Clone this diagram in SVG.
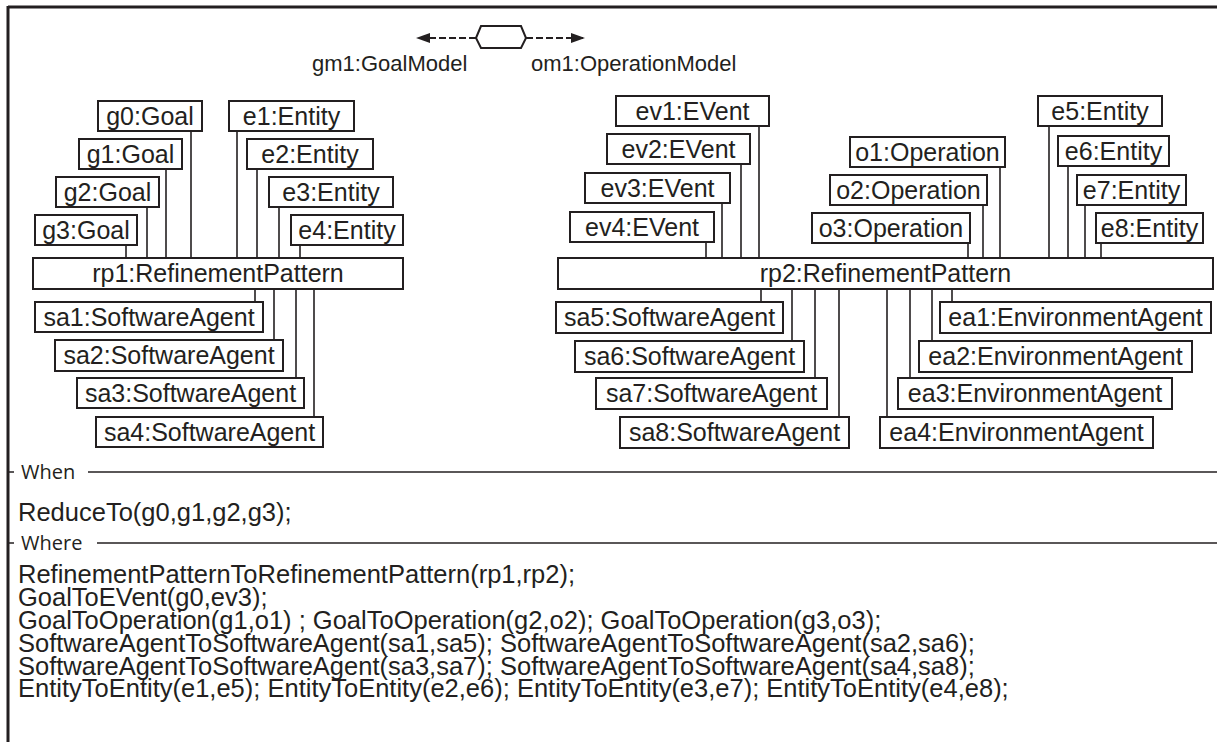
<svg xmlns="http://www.w3.org/2000/svg" width="1217" height="742" viewBox="0 0 1217 742">
  <style>
    .box { fill: #ffffff; stroke: #231f20; stroke-width: 2; }
    .lbl { font-family: "Liberation Sans", Arial, sans-serif; font-size: 25px; fill: #231f20; text-anchor: middle; }
    .model { font-family: "Liberation Sans", Arial, sans-serif; font-size: 22px; fill: #231f20; }
    .code { font-family: "Liberation Sans", Arial, sans-serif; font-size: 25.5px; fill: #231f20; }
    .sect { font-family: "Open Sans", "Noto Sans", sans-serif; font-size: 20px; fill: #231f20; }
    .frame { stroke: #231f20; stroke-width: 3; fill: none; }
    .sep { stroke: #231f20; stroke-width: 1.5; fill: none; }
    .link { stroke: #231f20; stroke-width: 1.6; fill: none; }
    .dash { stroke: #231f20; stroke-width: 2; stroke-dasharray: 7 3; fill: none; }
  </style>
  <defs>
    <marker id="arrow" viewBox="0 0 14 10" refX="14" refY="5" markerWidth="14" markerHeight="10" markerUnits="userSpaceOnUse" orient="auto">
      <path d="M0,0 L14,5 L0,10 Z" fill="#231f20"/>
    </marker>
  </defs>

  <rect width="1217" height="742" fill="#ffffff"/>

  <!-- outer frame: top edge and left edge -->
  <g id="frame">
    <line class="frame" x1="8" y1="7" x2="1217" y2="7"/>
    <line class="frame" x1="8" y1="6" x2="8" y2="742"/>
  </g>

  <!-- model relation: goal model to operation model -->
  <g id="model-relation">
    <polygon points="476,38 481,26 521,26 526,38 521,48 481,48" fill="#ffffff" stroke="#231f20" stroke-width="2"/>
    <line class="dash" x1="476" y1="38" x2="416" y2="38" marker-end="url(#arrow)"/>
    <line class="dash" x1="526" y1="38" x2="585" y2="38" marker-end="url(#arrow)"/>
    <text class="model" x="312" y="71">gm1:GoalModel</text>
    <text class="model" x="531" y="71">om1:OperationModel</text>
  </g>

  <!-- connectors -->
  <g id="connectors">
    <!-- rp1 upper links -->
    <line class="link" x1="191" y1="131" x2="191" y2="258"/>
    <line class="link" x1="166" y1="169" x2="166" y2="258"/>
    <line class="link" x1="147" y1="207" x2="147" y2="258"/>
    <line class="link" x1="126" y1="245" x2="126" y2="258"/>
    <line class="link" x1="237" y1="131" x2="237" y2="258"/>
    <line class="link" x1="257" y1="169" x2="257" y2="258"/>
    <line class="link" x1="279" y1="207" x2="279" y2="258"/>
    <line class="link" x1="300" y1="245" x2="300" y2="258"/>
    <!-- rp1 lower links -->
    <line class="link" x1="255" y1="289" x2="255" y2="302"/>
    <line class="link" x1="274" y1="289" x2="274" y2="340"/>
    <line class="link" x1="296" y1="289" x2="296" y2="378"/>
    <line class="link" x1="314" y1="289" x2="314" y2="417"/>
    <!-- rp2 upper links -->
    <line class="link" x1="706" y1="242" x2="706" y2="258"/>
    <line class="link" x1="722" y1="203" x2="722" y2="258"/>
    <line class="link" x1="741" y1="164" x2="741" y2="258"/>
    <line class="link" x1="759" y1="126" x2="759" y2="258"/>
    <line class="link" x1="968" y1="243" x2="968" y2="258"/>
    <line class="link" x1="983" y1="205" x2="983" y2="258"/>
    <line class="link" x1="1000" y1="167" x2="1000" y2="258"/>
    <line class="link" x1="1049" y1="126" x2="1049" y2="258"/>
    <line class="link" x1="1068" y1="166" x2="1068" y2="258"/>
    <line class="link" x1="1085" y1="205" x2="1085" y2="258"/>
    <line class="link" x1="1101" y1="243" x2="1101" y2="258"/>
    <!-- rp2 lower links -->
    <line class="link" x1="761" y1="289" x2="761" y2="302"/>
    <line class="link" x1="792" y1="289" x2="792" y2="341"/>
    <line class="link" x1="815" y1="289" x2="815" y2="378"/>
    <line class="link" x1="839" y1="289" x2="839" y2="417"/>
    <line class="link" x1="887" y1="289" x2="887" y2="417"/>
    <line class="link" x1="910" y1="289" x2="910" y2="378"/>
    <line class="link" x1="932" y1="289" x2="932" y2="341"/>
    <line class="link" x1="952" y1="289" x2="952" y2="302"/>
  </g>

  <!-- left pattern -->
  <g id="g0"><rect class="box" x="98" y="101" width="104" height="30"/><text class="lbl" x="150" y="125">g0:Goal</text></g>
  <g id="g1"><rect class="box" x="79" y="139" width="103" height="30"/><text class="lbl" x="130.5" y="163">g1:Goal</text></g>
  <g id="g2"><rect class="box" x="56" y="177" width="103" height="30"/><text class="lbl" x="107.5" y="201">g2:Goal</text></g>
  <g id="g3"><rect class="box" x="35" y="215" width="102" height="30"/><text class="lbl" x="86" y="239">g3:Goal</text></g>
  <g id="e1"><rect class="box" x="229" y="101" width="125" height="30"/><text class="lbl" x="291.5" y="125">e1:Entity</text></g>
  <g id="e2"><rect class="box" x="247" y="139" width="126" height="30"/><text class="lbl" x="310" y="163">e2:Entity</text></g>
  <g id="e3"><rect class="box" x="269" y="177" width="124" height="30"/><text class="lbl" x="331" y="201">e3:Entity</text></g>
  <g id="e4"><rect class="box" x="291" y="215" width="112" height="30"/><text class="lbl" x="347" y="239">e4:Entity</text></g>
  <g id="rp1"><rect class="box" x="33" y="258" width="370" height="31"/><text class="lbl" x="218" y="282">rp1:RefinementPattern</text></g>
  <g id="sa1"><rect class="box" x="35" y="302" width="228" height="30"/><text class="lbl" x="149" y="326">sa1:SoftwareAgent</text></g>
  <g id="sa2"><rect class="box" x="55" y="340" width="228" height="31"/><text class="lbl" x="169" y="364">sa2:SoftwareAgent</text></g>
  <g id="sa3"><rect class="box" x="77" y="378" width="227" height="30"/><text class="lbl" x="190.5" y="402">sa3:SoftwareAgent</text></g>
  <g id="sa4"><rect class="box" x="96" y="417" width="227" height="30"/><text class="lbl" x="209.5" y="441">sa4:SoftwareAgent</text></g>

  <!-- right pattern -->
  <g id="ev1"><rect class="box" x="616" y="96" width="153" height="30"/><text class="lbl" x="692.5" y="120">ev1:EVent</text></g>
  <g id="ev2"><rect class="box" x="607" y="134" width="143" height="30"/><text class="lbl" x="678.5" y="158">ev2:EVent</text></g>
  <g id="ev3"><rect class="box" x="585" y="173" width="145" height="30"/><text class="lbl" x="657.5" y="197">ev3:EVent</text></g>
  <g id="ev4"><rect class="box" x="570" y="212" width="144" height="30"/><text class="lbl" x="642" y="236">ev4:EVent</text></g>
  <g id="o1"><rect class="box" x="850" y="137" width="155" height="30"/><text class="lbl" x="927.5" y="161">o1:Operation</text></g>
  <g id="o2"><rect class="box" x="830" y="175" width="157" height="30"/><text class="lbl" x="908.5" y="199">o2:Operation</text></g>
  <g id="o3"><rect class="box" x="812" y="213" width="158" height="30"/><text class="lbl" x="891" y="237">o3:Operation</text></g>
  <g id="e5"><rect class="box" x="1038" y="96" width="124" height="30"/><text class="lbl" x="1100" y="120">e5:Entity</text></g>
  <g id="e6"><rect class="box" x="1058" y="136" width="111" height="30"/><text class="lbl" x="1113.5" y="160">e6:Entity</text></g>
  <g id="e7"><rect class="box" x="1077" y="175" width="109" height="30"/><text class="lbl" x="1131.5" y="199">e7:Entity</text></g>
  <g id="e8"><rect class="box" x="1096" y="213" width="107" height="30"/><text class="lbl" x="1149.5" y="237">e8:Entity</text></g>
  <g id="rp2"><rect class="box" x="558" y="258" width="655" height="31"/><text class="lbl" x="885.5" y="282">rp2:RefinementPattern</text></g>
  <g id="sa5"><rect class="box" x="556" y="302" width="227" height="31"/><text class="lbl" x="669.5" y="326">sa5:SoftwareAgent</text></g>
  <g id="sa6"><rect class="box" x="575" y="341" width="229" height="31"/><text class="lbl" x="689.5" y="365">sa6:SoftwareAgent</text></g>
  <g id="sa7"><rect class="box" x="596" y="378" width="231" height="31"/><text class="lbl" x="711.5" y="402">sa7:SoftwareAgent</text></g>
  <g id="sa8"><rect class="box" x="620" y="417" width="229" height="31"/><text class="lbl" x="734.5" y="441">sa8:SoftwareAgent</text></g>
  <g id="ea1"><rect class="box" x="940" y="302" width="271" height="31"/><text class="lbl" x="1075.5" y="326">ea1:EnvironmentAgent</text></g>
  <g id="ea2"><rect class="box" x="919" y="341" width="273" height="31"/><text class="lbl" x="1055.5" y="365">ea2:EnvironmentAgent</text></g>
  <g id="ea3"><rect class="box" x="898" y="378" width="274" height="31"/><text class="lbl" x="1035" y="402">ea3:EnvironmentAgent</text></g>
  <g id="ea4"><rect class="box" x="880" y="417" width="273" height="31"/><text class="lbl" x="1016.5" y="441">ea4:EnvironmentAgent</text></g>

  <!-- When compartment -->
  <g id="when">
    <line class="sep" x1="8" y1="472" x2="14" y2="472"/>
    <text class="sect" x="21" y="479">When</text>
    <line class="sep" x1="88" y1="472" x2="1217" y2="472"/>
    <text class="code" x="18" y="521">ReduceTo(g0,g1,g2,g3);</text>
  </g>

  <!-- Where compartment -->
  <g id="where">
    <line class="sep" x1="8" y1="543" x2="14" y2="543"/>
    <text class="sect" x="21" y="550">Where</text>
    <line class="sep" x1="97" y1="543" x2="1217" y2="543"/>
    <text class="code" x="18" y="583">RefinementPatternToRefinementPattern(rp1,rp2);</text>
    <text class="code" x="18" y="606">GoalToEVent(g0,ev3);</text>
    <text class="code" x="18" y="629">GoalToOperation(g1,o1) ; GoalToOperation(g2,o2); GoalToOperation(g3,o3);</text>
    <text class="code" x="18" y="652">SoftwareAgentToSoftwareAgent(sa1,sa5); SoftwareAgentToSoftwareAgent(sa2,sa6);</text>
    <text class="code" x="18" y="675">SoftwareAgentToSoftwareAgent(sa3,sa7); SoftwareAgentToSoftwareAgent(sa4,sa8);</text>
    <text class="code" x="18" y="697">EntityToEntity(e1,e5); EntityToEntity(e2,e6); EntityToEntity(e3,e7); EntityToEntity(e4,e8);</text>
  </g>
</svg>
